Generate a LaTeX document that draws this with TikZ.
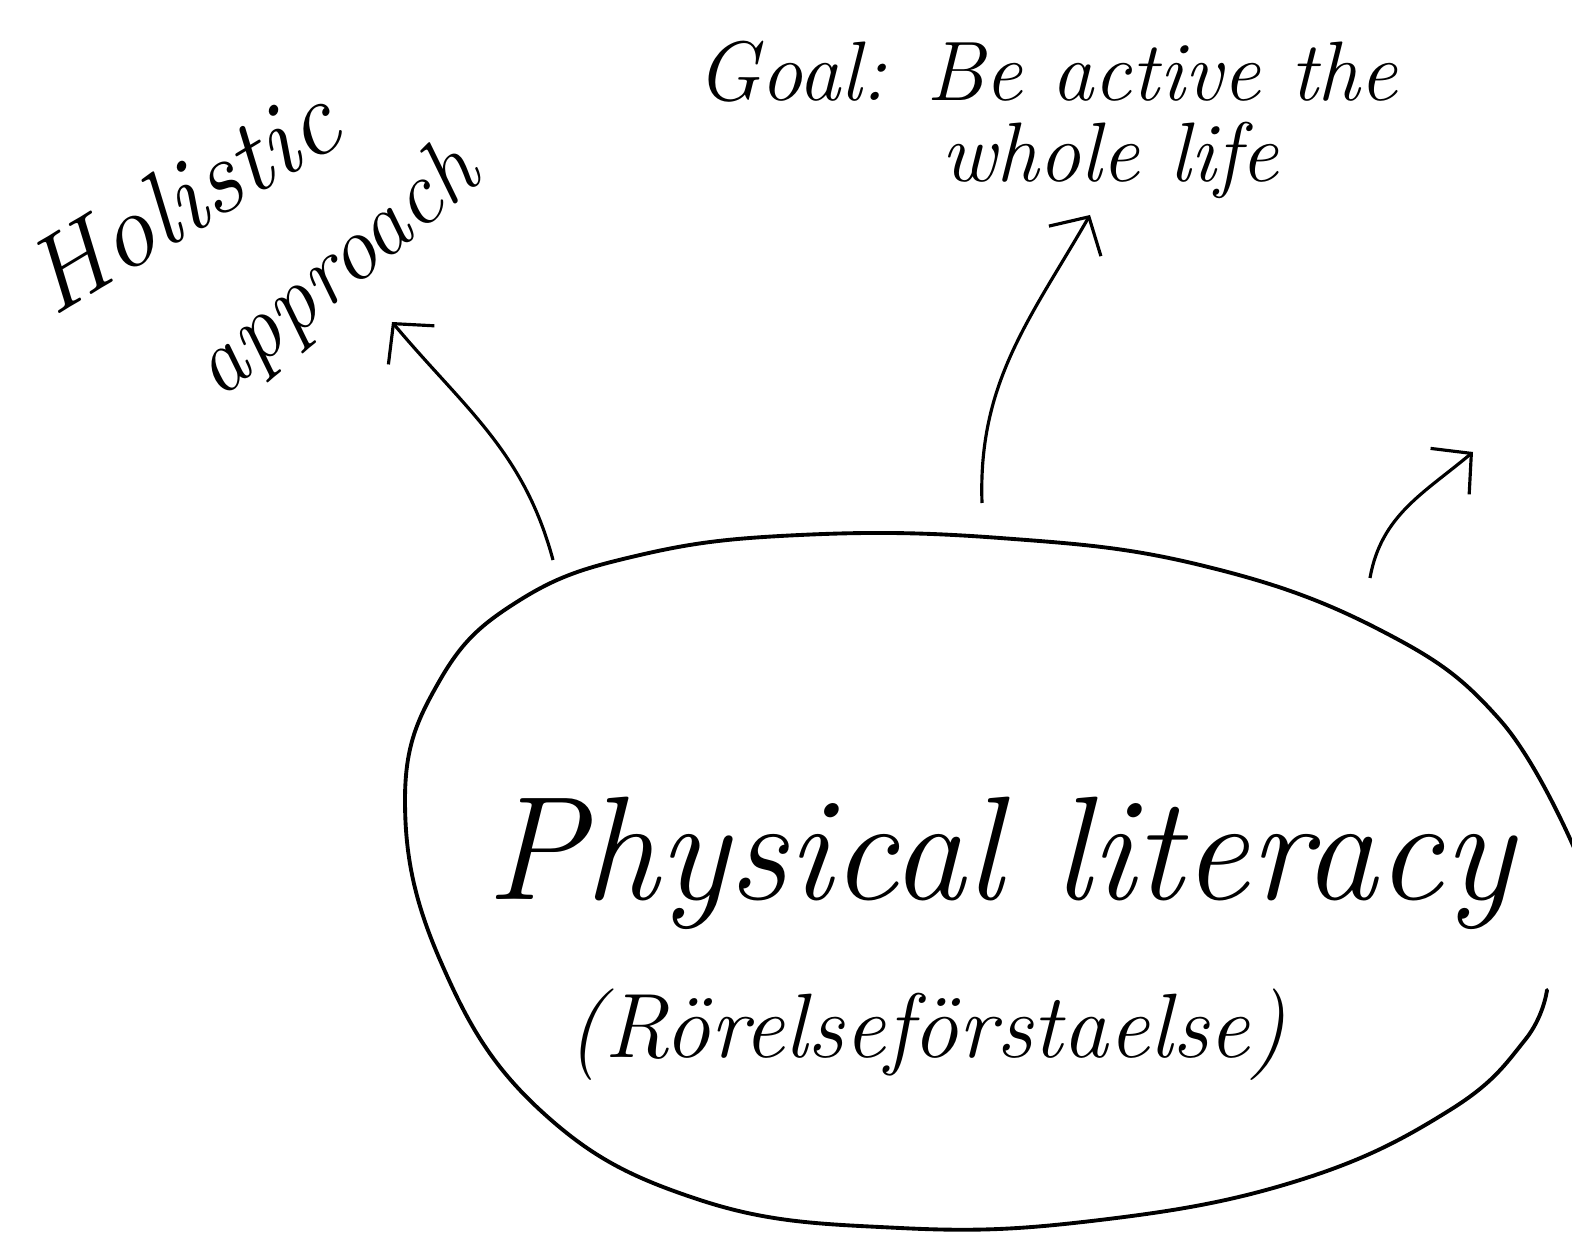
\documentclass[tikz,border=0pt]{standalone}
\usepackage{tikz}
\usetikzlibrary{arrows.meta}
\tikzset{
  hand/.style={inner sep=0pt, align=center, font=\itshape},
  barb/.style={line width=0.9pt, -{Straight Barb[length=2.8mm, width=6mm]}},
  blob/.style={line width=1.1pt, line cap=round}
}

\begin{document}
\begin{tikzpicture}[x=0.01cm, y=0.01cm]
  \useasboundingbox (0,0) rectangle (1572,-1234);
  \clip (0,0) rectangle (1572,-1234);

  % texts
  \node[hand, rotate=31, font=\itshape\fontsize{30}{36}\selectfont] (hol) at (182,-198) {Holistic};
  \node[hand, rotate=40, font=\itshape\fontsize{26}{32}\selectfont] (app) at (338,-272) {approach};
  \node[hand, font=\itshape\fontsize{24}{30}\selectfont] (goal) at (1047,-72) {Goal: Be active the};
  \node[hand, font=\itshape\fontsize{24}{30}\selectfont] (life) at (1110,-160) {whole life};
  \node[hand, anchor=base, font=\itshape\fontsize{42}{50}\selectfont] (pl) at (1000,-900) {Physical literacy};
  \node[hand, font=\itshape\fontsize{26}{32}\selectfont] (ror) at (927,-1035) {(Rörelseförstaelse)};

  % outline round the title
  \draw[blob] plot[smooth, tension=0.7] coordinates {
    (1547,-990) (1525,-1040) (1450,-1110) (1300,-1180) (1100,-1220) (900,-1228)
    (700,-1200) (540,-1110) (440,-960) (405,-800) (440,-680) (520,-600)
    (640,-555) (800,-535) (1000,-538) (1200,-565) (1380,-630) (1500,-720) (1575,-850)};

  % arrow ends
  \coordinate (s1) at (553,-560);
  \coordinate (e1) at (392,-322);
  \coordinate (s2) at (982,-503);
  \coordinate (e2) at (1090,-215);
  \coordinate (s3) at (1370,-578);
  \coordinate (e3) at (1473,-452);

  \draw[barb] (s1) to[out=105, in=-50] (e1);
  \draw[barb] (s2) to[out=92, in=-120] (e2);
  \draw[barb] (s3) to[out=80, in=-140] (e3);
\end{tikzpicture}
\end{document}
